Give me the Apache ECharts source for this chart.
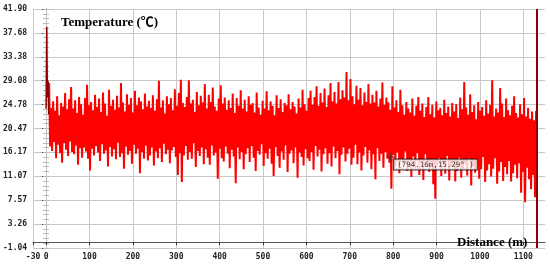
<!DOCTYPE html>
<html>
<head>
<meta charset="utf-8">
<script src="https://cdn.jsdelivr.net/npm/echarts@6.0.0/dist/echarts.min.js"></script>
<style>
  html, body { margin: 0; padding: 0; background: #fff; }
  #temp-chart { width: 550px; height: 264px; }
</style>
</head>
<body>
<div id="temp-chart"></div>
<script>
// y axis tick labels as printed on the original
var yLabels = ['-1.04', '3.26', '7.57', '11.07', '16.17', '20.47', '24.78', '29.08', '33.38', '37.68', '41.90'];
var yMin = -1.04, yMax = 41.90;
var xTicks = [-30, 0, 100, 200, 300, 400, 500, 600, 700, 800, 900, 1000, 1100];

// fibre temperature trace, sampled every 2.3 m starting at 7 m
var startDist = 7, stepDist = 2.3;
var temps = [
    28.6,17.2,24.1,16.4,25.3,18.0,23.6,15.1,26.2,17.5,22.8,16.0,25.0,14.3,24.4,17.8,26.8,16.6,23.9,15.5,
    25.7,18.1,27.9,16.2,24.0,15.8,25.5,17.4,23.2,13.9,26.1,16.9,24.8,15.2,22.9,17.0,25.9,16.3,28.3,15.0,
    24.6,12.9,25.2,16.8,23.7,15.6,26.5,17.3,24.3,16.1,25.8,14.6,23.4,17.6,26.9,15.9,24.9,16.5,22.7,13.6,
    27.4,17.1,24.5,15.4,25.6,16.7,23.8,14.9,26.3,17.9,24.2,15.3,28.6,16.0,25.1,13.2,23.5,17.2,26.6,15.7,
    24.7,16.4,25.9,14.1,23.3,17.5,27.2,15.9,24.6,16.8,26.0,12.4,25.3,16.2,23.9,15.0,26.7,17.4,24.4,14.7,
    25.4,15.6,24.1,17.0,26.4,13.8,23.6,16.3,25.7,15.1,29.0,16.9,24.2,14.4,25.5,17.7,23.1,15.8,26.2,16.6,
    24.8,14.2,25.9,16.5,23.7,17.1,27.5,15.3,24.5,12.1,26.8,16.0,29.2,10.8,25.0,15.6,24.3,17.3,26.1,14.8,
    29.1,16.2,24.9,15.0,25.6,17.8,23.4,13.5,27.0,16.4,24.6,15.5,26.3,17.0,25.1,14.0,28.4,16.7,24.0,15.2,
    26.5,13.9,25.2,17.4,27.8,15.6,24.4,16.1,23.6,11.4,25.8,16.8,28.2,15.1,24.9,14.5,26.0,17.2,23.8,15.9,
    25.5,13.3,24.1,16.6,26.7,15.4,23.2,10.6,25.9,17.0,24.5,14.9,27.3,16.2,24.0,13.1,25.6,15.8,23.5,16.9,
    26.2,14.4,24.7,17.3,25.0,15.2,23.3,12.8,26.9,16.4,24.2,15.7,22.9,17.6,25.4,13.7,24.0,16.0,27.1,15.0,
    23.7,16.8,25.3,14.1,24.5,11.9,22.8,17.1,26.4,15.5,24.1,13.4,25.7,16.3,23.4,14.8,25.0,17.4,24.6,12.6,
    26.6,15.9,23.9,16.5,25.2,14.2,24.4,17.0,23.1,11.6,25.8,16.1,24.2,15.3,27.4,13.8,24.8,16.7,23.6,15.1,
    25.9,14.6,27.2,16.2,24.7,13.0,26.1,17.3,28.0,15.4,24.5,16.6,26.8,12.7,25.1,15.8,27.6,16.9,24.3,14.1,
    26.4,16.0,28.6,13.6,25.3,17.2,27.0,15.1,24.9,16.4,28.8,12.2,25.7,15.7,27.3,17.0,26.0,14.5,30.6,15.9,
    25.5,16.8,29.3,13.9,26.2,15.2,24.8,17.5,28.1,14.0,25.6,16.1,27.7,12.9,24.6,15.6,26.9,17.1,25.2,14.3,
    28.4,16.5,24.9,13.1,26.5,15.8,25.1,11.3,27.2,16.9,24.4,14.6,25.8,15.9,28.7,13.4,24.7,16.2,26.0,15.0,
    25.1,14.3,23.8,9.6,28.0,15.7,24.2,13.6,25.5,16.1,23.4,12.4,27.4,15.0,24.6,13.9,22.9,16.3,25.2,12.8,
    24.0,14.9,23.3,11.7,25.8,15.4,22.7,13.2,24.5,16.0,26.1,12.1,23.6,14.7,24.9,11.2,22.5,15.8,24.3,13.5,
    26.1,12.6,23.0,14.4,24.7,10.4,22.4,7.8,25.3,13.8,23.7,15.1,24.1,11.9,22.8,14.2,25.6,12.3,23.2,15.5,
    24.4,11.1,22.6,13.7,25.0,14.6,23.5,10.9,24.8,12.8,22.3,15.2,26.0,11.6,23.9,13.3,28.8,14.1,24.2,12.0,
    22.9,15.0,26.6,10.2,23.4,13.6,24.6,12.5,22.1,14.8,25.2,11.4,23.6,13.1,24.3,15.3,22.7,10.8,25.5,12.9,
    23.1,14.0,24.7,11.8,29.1,13.2,22.6,15.1,24.0,10.5,23.3,12.7,27.7,14.4,24.9,11.0,22.5,13.5,25.8,12.2,
    23.7,14.6,22.8,10.9,24.5,12.4,26.2,13.9,23.2,11.5,22.4,14.2,24.8,8.9,23.0,12.6,25.9,7.2,22.6,13.4,
    24.1,11.3,22.2,9.5,23.5,12.1,21.9,8.1,23.6,10.7
];
// launch spike at the fibre start and the fibre end reflection
var startSpike = [[0, 24.0], [1.5, 38.7], [3, 26.0], [4.5, 29.0], [6, 23.0]];
var endSpike = [[1131.5, 41.9], [1131.5, -1.04]];
var cursorPoint = [794.16, 15.29];

var chart = echarts.init(document.getElementById('temp-chart'));

var traceData = temps.map(function (t, i) {
    return [startDist + i * stepDist, t];
});

var yStep = (yMax - yMin) / 10;
var monoFont = 'DejaVu Sans Mono';
var serifFont = "'Liberation Serif', 'Noto Sans CJK SC', serif";

function yLabel(v) {
    var idx = Math.round((v - yMin) / yStep);
    return yLabels[idx] !== undefined ? yLabels[idx] : '';
}

var option = {
    animation: false,
    backgroundColor: '#fff',
    title: [
        {
            text: 'Temperature (℃)',
            left: 56, top: 11,
            textStyle: { fontFamily: serifFont, fontWeight: 'bold', fontSize: 13, color: '#000' }
        },
        {
            text: 'Distance (m)',
            left: 452, top: 231,
            textStyle: { fontFamily: serifFont, fontWeight: 'bold', fontSize: 13, color: '#000' }
        }
    ],
    grid: { left: 33, right: 5, top: 9, bottom: 16 },
    xAxis: {
        type: 'value',
        min: -30,
        max: 1150,
        axisLine: { lineStyle: { color: '#555' } },
        axisTick: { length: 3, customValues: xTicks, lineStyle: { color: '#333' } },
        axisLabel: {
            customValues: xTicks,
            formatter: function (v) { return String(v); },
            margin: 5,
            fontFamily: monoFont, fontSize: 8, fontWeight: 'bold', color: '#222'
        },
        splitLine: { show: true, lineStyle: { color: '#c8c8c8' } }
    },
    yAxis: [
        {
            type: 'value',
            min: yMin, max: yMax, interval: yStep,
            axisLine: { show: true, lineStyle: { color: '#555' } },
            axisTick: { show: true, length: 4, lineStyle: { color: '#333' } },
            axisLabel: {
                formatter: yLabel, margin: 6,
                fontFamily: monoFont, fontSize: 8, fontWeight: 'bold', color: '#222'
            },
            splitLine: { show: true, lineStyle: { color: '#c8c8c8' } }
        },
        {
            // zero-distance marker line with small cross ticks
            type: 'value',
            position: 'left', offset: -13,
            min: yMin, max: yMax, interval: yStep,
            axisLine: { show: true, lineStyle: { color: '#c4c4c4' } },
            axisTick: { show: true, inside: true, length: 3, lineStyle: { color: '#bbb' } },
            minorTick: { show: true, splitNumber: 5, length: 3, lineStyle: { color: '#bbb' } },
            axisLabel: { show: false },
            splitLine: { show: false }
        },
        {
            type: 'value',
            position: 'left', offset: -13,
            min: yMin, max: yMax, interval: yStep,
            axisLine: { show: false },
            axisTick: { show: true, inside: false, length: 3, lineStyle: { color: '#bbb' } },
            minorTick: { show: true, splitNumber: 5, length: 3, lineStyle: { color: '#bbb' } },
            axisLabel: { show: false },
            splitLine: { show: false }
        }
    ],
    series: [
        {
            name: 'Temperature',
            type: 'line',
            data: traceData,
            symbol: 'none',
            lineStyle: { color: '#ff0000', width: 2, join: 'miter' },
            z: 3
        },
        {
            name: 'Start',
            type: 'line',
            data: startSpike,
            symbol: 'none',
            lineStyle: { color: '#8b0000', width: 1.5 },
            z: 4
        },
        {
            name: 'End',
            type: 'line',
            data: endSpike,
            symbol: 'none',
            lineStyle: { color: '#8b0000', width: 2 },
            z: 4
        },
        {
            name: 'Cursor',
            type: 'scatter',
            data: [cursorPoint],
            symbol: 'path://M5,0 L5,10 M0,5 L10,5',
            symbolSize: 8,
            itemStyle: { color: 'none', borderColor: '#333', borderWidth: 1 },
            label: {
                show: true,
                position: [10, 9],
                formatter: '(794.16m,15.29° )',
                fontFamily: monoFont, fontSize: 7.5, color: '#000',
                backgroundColor: '#fff',
                borderColor: '#000', borderWidth: 1,
                padding: [1, 3]
            },
            z: 6
        }
    ]
};

chart.setOption(option);
window.onresize = chart.resize;
</script>
</body>
</html>
